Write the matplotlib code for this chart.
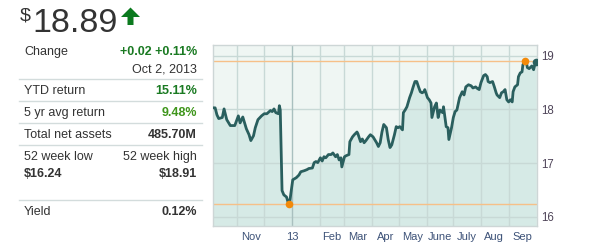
import numpy as np
import matplotlib
matplotlib.use("Agg")
import matplotlib.pyplot as plt
import matplotlib.dates as mdates
from matplotlib.patches import Polygon

plt.rcParams['font.family'] = ['Liberation Sans', 'DejaVu Sans']

# price history, days counted from 2012-10-02
base_date = np.datetime64('2012-10-02')
days = [3, 5, 7, 9, 13, 15, 18, 22, 27, 31, 33, 36, 40, 43, 45, 48, 50, 53, 57, 60,
        63, 67, 69, 71, 73, 76, 77, 78, 80, 82, 85, 87, 88, 89, 90, 92, 96, 99, 101, 105,
        108, 110, 114, 116, 118, 120, 123, 125, 127, 129, 132, 135, 137, 140, 142, 144, 146, 147, 150, 152,
        155, 156, 159, 161, 164, 165, 168, 170, 172, 174, 177, 179, 182, 186, 188, 190, 192, 194, 197, 199,
        201, 203, 206, 208, 210, 212, 215, 216, 218, 220, 223, 225, 227, 229, 231, 233, 235, 237, 239, 240,
        243, 245, 247, 248, 251, 253, 255, 257, 260, 261, 264, 266, 267, 270, 272, 274, 276, 279, 282, 284,
        286, 289, 292, 294, 297, 299, 301, 303, 306, 308, 310, 311, 313, 316, 318, 320, 321, 324, 326, 328,
        330, 332, 334, 336, 338, 339, 341, 344, 345, 347, 349, 350, 352, 354, 355, 357, 360, 362, 363, 365]
prices = [18.03, 18.03, 17.90, 17.83, 17.85, 18.01, 17.81, 17.70, 17.70, 17.88, 17.75, 17.86, 17.64, 17.53, 17.42, 17.51, 17.66, 17.81, 17.88, 17.92,
          17.92, 17.98, 17.96, 18.01, 17.94, 17.92, 18.07, 17.99, 16.49, 16.41, 16.37, 16.26, 16.24, 16.32, 16.45, 16.69, 16.73, 16.78, 16.84, 16.86,
          16.88, 16.90, 16.91, 17.01, 17.03, 17.01, 17.10, 17.04, 17.12, 17.10, 17.16, 17.16, 17.19, 17.12, 17.16, 17.06, 17.10, 16.93, 17.12, 17.14,
          17.16, 17.40, 17.49, 17.53, 17.58, 17.55, 17.40, 17.45, 17.38, 17.42, 17.49, 17.53, 17.49, 17.38, 17.31, 17.38, 17.58, 17.72, 17.66, 17.44,
          17.29, 17.34, 17.53, 17.68, 17.66, 17.68, 17.62, 17.94, 17.99, 18.05, 18.22, 18.31, 18.42, 18.52, 18.52, 18.42, 18.33, 18.31, 18.33, 18.37,
          18.22, 18.18, 18.12, 17.85, 18.05, 18.12, 17.85, 17.99, 17.94, 18.05, 17.68, 17.66, 17.44, 17.66, 17.85, 17.96, 17.99, 18.22, 18.33, 18.27,
          18.42, 18.46, 18.44, 18.40, 18.42, 18.39, 18.37, 18.50, 18.63, 18.65, 18.61, 18.52, 18.50, 18.52, 18.42, 18.31, 18.27, 18.22, 18.31, 18.33,
          18.37, 18.18, 18.14, 18.18, 18.14, 18.33, 18.42, 18.46, 18.61, 18.68, 18.70, 18.83, 18.91, 18.87, 18.78, 18.76, 18.81, 18.74, 18.81, 18.89]

week52_low = 16.24
week52_high = 18.91

month_starts = ['2012-11-01', '2012-12-01', '2013-01-01', '2013-02-01', '2013-03-01', '2013-04-01',
                '2013-05-01', '2013-06-01', '2013-07-01', '2013-08-01', '2013-09-01']
label_dates = ['2012-11-16', '2013-01-01', '2013-02-15', '2013-03-16', '2013-04-16',
               '2013-05-16', '2013-06-16', '2013-07-16', '2013-08-16', '2013-09-16']
label_texts = ['Nov', '13', 'Feb', 'Mar', 'Apr', 'May', 'June', 'July', 'Aug', 'Sep']
y_ticks = [16, 17, 18, 19]

rows_left = ['Change', 'YTD return', '5 yr avg return', 'Total net assets', '52 week low', 'Yield']
rows_right = ['+0.02 +0.11%', '15.11%', '9.48%', '485.70M', '52 week high', '0.12%']

W, H = 603, 250
fig = plt.figure(figsize=(W / 100, H / 100), dpi=100)
fig.patch.set_facecolor('white')


def fx(x):
    return x / W


def fy(y):
    return 1 - y / H


dark = '#333333'
green = '#1a7a22'

# big price
fig.text(fx(20), fy(21), '$', fontsize=14, color=dark, va='baseline', ha='left')
fig.text(fx(32), fy(32), '18.89', fontsize=24.5, color=dark, va='baseline', ha='left')
arrow = Polygon([(fx(121), fy(17)), (fx(130.5), fy(7.5)), (fx(140), fy(17)), (fx(133.5), fy(17)),
                 (fx(133.5), fy(25)), (fx(127.5), fy(25)), (fx(127.5), fy(17))],
                closed=True, transform=fig.transFigure, facecolor='#0b7a1e', edgecolor='none')
fig.patches.append(arrow)

fs = 9
lx, rx = 24, 197
fig.text(fx(lx), fy(52), rows_left[0], fontsize=fs, color=dark, va='center')
fig.text(fx(rx), fy(52), rows_right[0], fontsize=fs, color=green, va='center', ha='right', fontweight='bold')
fig.text(fx(rx), fy(69), 'Oct 2, 2013', fontsize=fs, color=dark, va='center', ha='right')
fig.text(fx(lx), fy(91), rows_left[1], fontsize=fs, color=dark, va='center')
fig.text(fx(rx), fy(91), rows_right[1], fontsize=fs, color=green, va='center', ha='right', fontweight='bold')
fig.text(fx(lx), fy(113), rows_left[2], fontsize=fs, color=dark, va='center')
fig.text(fx(rx), fy(113), rows_right[2], fontsize=fs, color='#3f961c', va='center', ha='right', fontweight='bold')
fig.text(fx(lx), fy(135), rows_left[3], fontsize=fs, color=dark, va='center')
fig.text(fx(rx), fy(135), rows_right[3], fontsize=fs, color=dark, va='center', ha='right', fontweight='bold')
fig.text(fx(lx), fy(157), rows_left[4], fontsize=fs, color=dark, va='center')
fig.text(fx(rx), fy(157), rows_right[4], fontsize=fs, color=dark, va='center', ha='right')
fig.text(fx(lx), fy(174), '$%.2f' % week52_low, fontsize=fs, color=dark, va='center', fontweight='bold')
fig.text(fx(rx), fy(174), '$%.2f' % week52_high, fontsize=fs, color=dark, va='center', ha='right', fontweight='bold')
fig.text(fx(lx), fy(212), rows_left[5], fontsize=fs, color=dark, va='center')
fig.text(fx(rx), fy(212), rows_right[5], fontsize=fs, color=dark, va='center', ha='right', fontweight='bold')

for sy in [79, 101, 123, 145, 200]:
    fig.add_artist(plt.Line2D([fx(19), fx(202)], [fy(sy), fy(sy)], transform=fig.transFigure,
                              color='#d3dcdc', lw=1))

# chart
ax = fig.add_axes([fx(213), fy(226), (537 - 213) / W, (226 - 45) / H])
ax.set_facecolor('#eff6f3')

dates = base_date + np.array(days).astype('timedelta64[D]')
x = mdates.date2num(dates.astype('datetime64[s]').astype(object))
x0 = mdates.date2num(base_date.astype('datetime64[s]').astype(object))
ymin, ymax = 15.83, 19.2

ax.fill_between(x, prices, ymin, color='#d6eae6', lw=0, zorder=1)

grid_c = '#c8d9d6'
for yv in y_ticks:
    ax.axhline(yv, color=grid_c, lw=1, zorder=1.5)
for m in month_starts:
    mx = mdates.date2num(np.datetime64(m, 's').astype(object))
    c = '#a9c0bf' if m.endswith('01-01') else grid_c
    ax.axvline(mx, color=c, lw=1, zorder=1.5)

ax.axhline(week52_high, color='#f6c088', lw=1, zorder=2)
ax.axhline(week52_low, color='#f6c088', lw=1, zorder=2)

ax.plot(x, prices, color='#2a5f5e', lw=2.0, zorder=3, solid_joinstyle='round')
i_lo = int(np.argmin(prices))
i_hi = int(np.argmax(prices))
ax.plot(x[i_lo], prices[i_lo], 'o', color='#f28a0a', ms=5.5, zorder=4, mec='none')
ax.plot(x[i_hi], prices[i_hi], 'o', color='#f28a0a', ms=5.5, zorder=4, mec='none')
ax.plot(x[-1], prices[-1], 'o', color='#2a5f5e', ms=5.5, zorder=4, mec='none')

ax.set_xlim(x0 + 2.6, x0 + 365.8)
ax.set_ylim(ymin, ymax)

lx_num = [mdates.date2num(np.datetime64(d, 's').astype(object)) for d in label_dates]
ax.set_xticks(lx_num)
ax.set_xticklabels(label_texts)
ax.yaxis.tick_right()
ax.set_yticks(y_ticks)
ax.set_yticklabels([str(v) for v in y_ticks])
ax.tick_params(axis='x', length=0, pad=4, labelsize=8, labelcolor='#3d5278')
ax.tick_params(axis='y', length=0, pad=3, labelsize=8.3, labelcolor='#4f4559')

for s in ax.spines.values():
    s.set_color('#cdd6d6')
    s.set_linewidth(1)

fig.savefig('out.png', dpi=100)
